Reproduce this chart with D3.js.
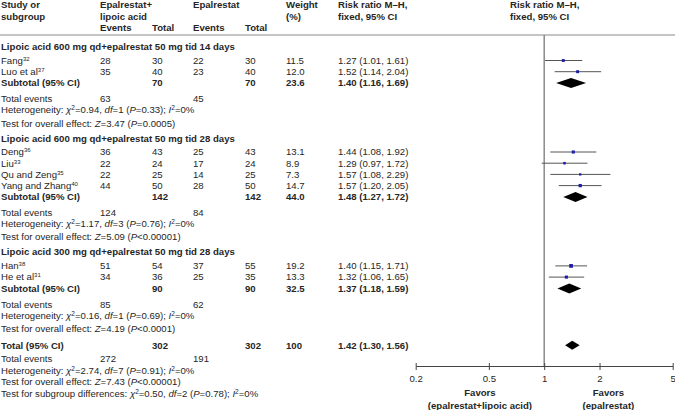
<!DOCTYPE html>
<html><head><meta charset="utf-8">
<script src="https://cdn.jsdelivr.net/npm/d3@7/dist/d3.min.js"></script>
<style>
body{margin:0;background:#fff;}
svg text{font-family:"Liberation Sans",Arial,sans-serif;font-size:9.6px;fill:#262626;}
</style></head>
<body><svg id="c" width="675" height="410"></svg>
<script>
// ---------- DATA ----------
const groupTitles = [
  "Lipoic acid 600 mg qd+epalrestat 50 mg tid 14 days",
  "Lipoic acid 600 mg qd+epalrestat 50 mg tid 28 days",
  "Lipoic acid 300 mg qd+epalrestat 50 mg tid 28 days"
];
const studyNames = ["Fang","Luo et al","Deng","Liu","Qu and Zeng","Yang and Zhang","Han","He et al"];
const studyRefs  = ["32","37","36","33","35","40","38","31"];
const studyGroup = [0,0,1,1,1,1,2,2];
const expEvents  = [28,35,36,22,22,44,51,34];
const expTotal   = [30,40,43,24,25,50,54,36];
const ctlEvents  = [22,23,25,17,14,28,37,25];
const ctlTotal   = [30,40,43,24,25,50,55,35];
const weights    = [11.5,12.0,13.1,8.9,7.3,14.7,19.2,13.3];
const rr         = [1.27,1.52,1.44,1.29,1.57,1.57,1.40,1.32];
const rrLow      = [1.01,1.14,1.08,0.97,1.08,1.20,1.15,1.06];
const rrHigh     = [1.61,2.04,1.92,1.72,2.29,2.05,1.71,1.65];

const subExpTotal  = [70,142,90];
const subCtlTotal  = [70,142,90];
const subWeight    = ["23.6","44.0","32.5"];
const subRR        = [1.40,1.48,1.37];
const subLow       = [1.16,1.27,1.18];
const subHigh      = [1.69,1.72,1.59];
const subExpEvents = [63,124,85];
const subCtlEvents = [45,84,62];
const subChi2      = ["0.94","1.17","0.16"];
const subDf        = [1,3,1];
const subHetP      = ["0.33","0.76","0.69"];
const subI2        = ["0%","0%","0%"];
const subZ         = ["3.47","5.09","4.19"];
const subZP        = ["=0.0005","<0.00001","<0.0001"];

const totalExpTotal = 302, totalCtlTotal = 302, totalWeight = "100";
const totalRR = 1.42, totalLow = 1.30, totalHigh = 1.56;
const totalExpEvents = 272, totalCtlEvents = 191;
const totalChi2 = "2.74", totalDf = 7, totalHetP = "0.91", totalI2 = "0%";
const totalZ = "7.43", totalZP = "<0.00001";
const subgroupChi2 = "0.50", subgroupDf = 2, subgroupP = "0.78", subgroupI2 = "0%";

const axisTicks = [0.2, 0.5, 1, 2, 5];
const favorsLeft = ["Favors", "(epalrestat+lipoic acid)"];
const favorsRight = ["Favors", "(epalrestat)"];

// ---------- LAYOUT ----------
const svg = d3.select("#c");
const colX = {study:1, expEv:100, expTot:152, ctlEv:193, ctlTot:245, weight:286, rr:338};
const x = d3.scaleLog().domain([0.2,5]).range([415.7,672.7]);
const fmt = d3.format(".2f");
const ciText = (m,l,h)=>`${fmt(m)} (${fmt(l)}, ${fmt(h)})`;

const rows = [];
groupTitles.forEach((t,g)=>{
  rows.push({kind:"title", g});
  studyNames.forEach((n,i)=>{ if(studyGroup[i]===g) rows.push({kind:"study", i}); });
  rows.push({kind:"sub", g});
  rows.push({kind:"te", g});
  rows.push({kind:"het", g});
  rows.push({kind:"test", g});
});
rows.push({kind:"total"});
rows.push({kind:"tte"});
rows.push({kind:"thet"});
rows.push({kind:"ttest"});
rows.push({kind:"tsub"});

let y = 46.7, prev = null;
rows.forEach(r=>{
  if(prev){
    let s;
    if(r.kind==="title") s = 15;
    else if(r.kind==="study") s = prev.kind==="title" ? 13.8 : 11.2;
    else if(r.kind==="sub") s = 11.4;
    else if(r.kind==="te") s = 15.8;
    else if(r.kind==="het") s = 11;
    else if(r.kind==="test") s = 13.3;
    else if(r.kind==="total") s = 16.7;
    else if(r.kind==="tte") s = 13.3;
    else s = 11.7;
    y += s;
  }
  r.y = y; prev = r;
});

// header
const hdr = svg.append("g").style("font-weight","bold");
const htxt = (tx,ty,s)=>hdr.append("text").attr("x",tx).attr("y",ty).attr("dy","0.35em").text(s);
htxt(colX.study,5,"Study or"); htxt(colX.study,17,"subgroup");
htxt(colX.expEv,5,"Epalrestat+"); htxt(colX.expEv,16.5,"lipoic acid");
htxt(colX.expEv,27.5,"Events"); htxt(colX.expTot,27.5,"Total");
htxt(colX.ctlEv,5,"Epalrestat");
htxt(colX.ctlEv,27.5,"Events"); htxt(colX.ctlTot,27.5,"Total");
htxt(colX.weight,5,"Weight"); htxt(colX.weight,16.5,"(%)");
htxt(colX.rr,5,"Risk ratio M\u2013H,"); htxt(colX.rr,16.5,"fixed, 95% CI");
htxt(510,5,"Risk ratio M\u2013H,"); htxt(510,16.5,"fixed, 95% CI");

svg.append("line").attr("x1",0).attr("x2",675).attr("y1",35).attr("y2",35)
  .attr("stroke","#8a8a8a").attr("stroke-width",1);

const axisY = 366;
svg.append("line").attr("x1",x(1)).attr("x2",x(1)).attr("y1",35).attr("y2",axisY)
  .attr("stroke","#8a8a8a").attr("stroke-width",1.5);

const body = svg.append("g");
function txt(tx,ty,s,bold){
  return body.append("text").attr("x",tx).attr("y",ty).attr("dy","0.35em")
    .style("font-weight",bold?"bold":null).text(s);
}
function richText(tx,ty,parts){
  const t = body.append("text").attr("x",tx).attr("y",ty).attr("dy","0.35em");
  parts.forEach(p=>{
    const sp = t.append("tspan").text(p.t);
    if(p.i) sp.style("font-style","italic");
    if(p.sup) sp.style("font-size","6.5px").attr("baseline-shift","super");
  });
  return t;
}
function hetParts(chi,df,p,i2){
  return [{t:"Heterogeneity: "},{t:"\u03c7",i:1},{t:"2",sup:1},{t:`=${chi}, `},{t:"df",i:1},
    {t:`=${df} (`},{t:"P",i:1},{t:`=${p}); `},{t:"I",i:1},{t:"2",sup:1},{t:`=${i2}`}];
}
function testParts(z,p){
  return [{t:"Test for overall effect: "},{t:"Z",i:1},{t:`=${z} (`},{t:"P",i:1},{t:`${p})`}];
}

const plot = svg.append("g");
function diamond(m,l,h,cy,hh){
  plot.append("path").attr("d",`M${x(l)},${cy}L${x(m)},${cy-hh}L${x(h)},${cy}L${x(m)},${cy+hh}Z`)
    .attr("fill","#000");
}

rows.forEach(r=>{
  switch(r.kind){
    case "title": txt(colX.study,r.y,groupTitles[r.g],true); break;
    case "study": {
      const i=r.i;
      const t = body.append("text").attr("x",colX.study).attr("y",r.y).attr("dy","0.35em");
      t.append("tspan").text(studyNames[i]);
      t.append("tspan").text(studyRefs[i]).style("font-size","6px").attr("baseline-shift","super");
      txt(colX.expEv,r.y,expEvents[i]); txt(colX.expTot,r.y,expTotal[i]);
      txt(colX.ctlEv,r.y,ctlEvents[i]); txt(colX.ctlTot,r.y,ctlTotal[i]);
      txt(colX.weight,r.y,weights[i].toFixed(1));
      txt(colX.rr,r.y,ciText(rr[i],rrLow[i],rrHigh[i]));
      plot.append("line").attr("x1",x(rrLow[i])).attr("x2",x(rrHigh[i]))
        .attr("y1",r.y).attr("y2",r.y).attr("stroke","#555").attr("stroke-width",1);
      const s = Math.sqrt(weights[i])*0.85;
      plot.append("rect").attr("x",x(rr[i])-s/2).attr("y",r.y-s/2).attr("width",s).attr("height",s)
        .attr("fill","#1c1ca8");
      break;}
    case "sub":
      txt(colX.study,r.y,"Subtotal (95% CI)",true);
      txt(colX.expTot,r.y,subExpTotal[r.g],true);
      txt(colX.ctlTot,r.y,subCtlTotal[r.g],true);
      txt(colX.weight,r.y,subWeight[r.g],true);
      txt(colX.rr,r.y,ciText(subRR[r.g],subLow[r.g],subHigh[r.g]),true);
      diamond(subRR[r.g],subLow[r.g],subHigh[r.g],r.y,5);
      break;
    case "te":
      txt(colX.study,r.y,"Total events"); txt(colX.expEv,r.y,subExpEvents[r.g]); txt(colX.ctlEv,r.y,subCtlEvents[r.g]); break;
    case "het": richText(colX.study,r.y,hetParts(subChi2[r.g],subDf[r.g],subHetP[r.g],subI2[r.g])); break;
    case "test": richText(colX.study,r.y,testParts(subZ[r.g],subZP[r.g])); break;
    case "total":
      txt(colX.study,r.y,"Total (95% CI)",true);
      txt(colX.expTot,r.y,totalExpTotal,true); txt(colX.ctlTot,r.y,totalCtlTotal,true);
      txt(colX.weight,r.y,totalWeight,true);
      txt(colX.rr,r.y,ciText(totalRR,totalLow,totalHigh),true);
      diamond(totalRR,totalLow,totalHigh,r.y,4.5);
      break;
    case "tte":
      txt(colX.study,r.y,"Total events"); txt(colX.expEv,r.y,totalExpEvents); txt(colX.ctlEv,r.y,totalCtlEvents); break;
    case "thet": richText(colX.study,r.y,hetParts(totalChi2,totalDf,totalHetP,totalI2)); break;
    case "ttest": richText(colX.study,r.y,testParts(totalZ,totalZP)); break;
    case "tsub": {
      const p = hetParts(subgroupChi2,subgroupDf,subgroupP,subgroupI2);
      p[0] = {t:"Test for subgroup differences: "};
      richText(colX.study,r.y,p); break;}
  }
});

const ax = svg.append("g").attr("transform",`translate(0,${axisY})`)
  .call(d3.axisBottom(x).tickValues(axisTicks).tickFormat(d=>String(d)).tickSizeOuter(0).tickSizeInner(4).tickPadding(5));
ax.select(".domain").attr("stroke","#444");
ax.selectAll(".tick line").attr("y1",-3).attr("stroke","#444");
ax.selectAll(".tick text").style("font-size","9.6px").style("font-family","Liberation Sans, Arial, sans-serif").attr("fill","#262626");

const fl = svg.append("g").style("font-weight","bold").attr("text-anchor","middle");
const lx = x(Math.sqrt(0.2*1)), rx = x(Math.sqrt(1*5));
favorsLeft.forEach((s,k)=>fl.append("text").attr("x",lx).attr("y",393+k*12.7).attr("dy","0.35em").text(s));
favorsRight.forEach((s,k)=>fl.append("text").attr("x",rx).attr("y",393+k*12.7).attr("dy","0.35em").text(s));
</script></body></html>
